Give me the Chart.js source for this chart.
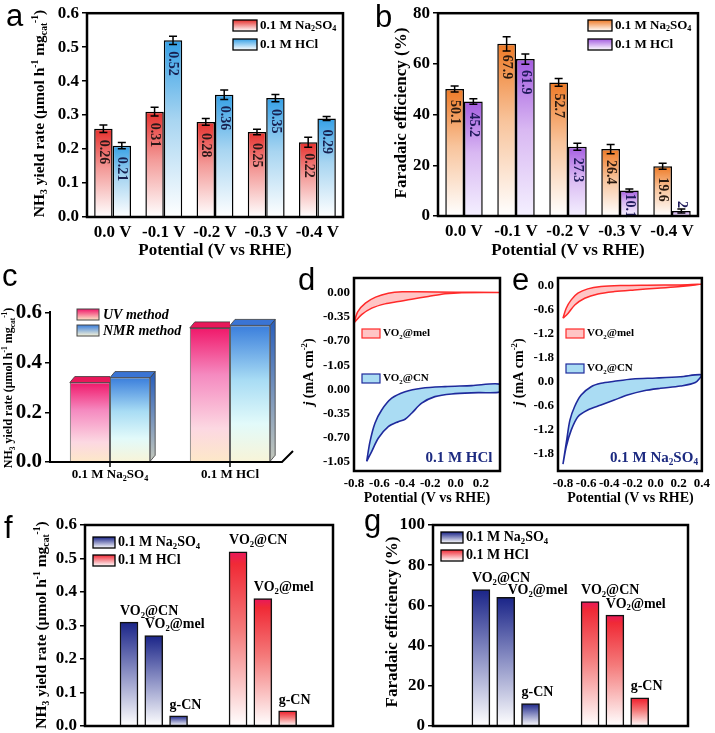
<!DOCTYPE html>
<html>
<head>
<meta charset="utf-8">
<script src="https://cdn.jsdelivr.net/npm/chart.js@4.4.0/dist/chart.umd.min.js"></script>
<style>
  body { margin: 0; background: #fff; }
  #wrap { position: relative; width: 715px; height: 733px; overflow: hidden; background: #fff; }
  canvas { position: absolute; }
</style>
</head>
<body>
<div id="wrap"></div>
<script>
// ---------- data ----------
var potentials = ['0.0 V', '-0.1 V', '-0.2 V', '-0.3 V', '-0.4 V'];
var yieldNa = [0.26, 0.31, 0.28, 0.25, 0.22];
var yieldNaErr = [0.011, 0.013, 0.010, 0.008, 0.015];
var yieldHCl = [0.21, 0.52, 0.36, 0.35, 0.29];
var yieldHClErr = [0.009, 0.012, 0.014, 0.011, 0.006];
var feNa = [50.1, 67.9, 52.7, 26.4, 19.6];
var feNaErr = [1.2, 2.8, 1.5, 1.8, 1.2];
var feHCl = [45.2, 61.9, 27.3, 10.1, 2];
var feHClErr = [1.1, 2.0, 1.4, 0.6, 0.8];

var electrolytes = ['0.1 M Na_{2}SO_{4}', '0.1 M HCl'];
var uvMethod = [0.32, 0.54];
var nmrMethod = [0.34, 0.55];

// CV loops [E, j]: reverse branch then forward branch
var cvMelHCl = [[-0.80,-0.44],[-0.77,-0.275],[-0.71,-0.153],[-0.63,-0.067],[-0.53,-0.01],[-0.42,0.012],[-0.30,0.01],[0.0,0.004],[0.35,0.0],
  [0.05,-0.002],[-0.083,-0.019],[-0.215,-0.058],[-0.346,-0.096],[-0.45,-0.13],[-0.556,-0.164],[-0.66,-0.226],[-0.74,-0.32],[-0.80,-0.44]];
var cvCNHCl = [[-0.70,-1.04],[-0.674,-0.756],[-0.635,-0.49],[-0.582,-0.298],[-0.503,-0.128],[-0.398,-0.033],[-0.267,0.017],[-0.083,0.04],[0.127,0.054],[0.35,0.075],
  [0.35,-0.035],[0.179,-0.047],[-0.031,-0.066],[-0.163,-0.105],[-0.267,-0.20],[-0.346,-0.345],[-0.398,-0.432],[-0.451,-0.467],[-0.53,-0.54],[-0.609,-0.707],[-0.661,-0.90],[-0.70,-1.04]];
var cvMelNa = [[-0.80,-0.815],[-0.772,-0.565],[-0.729,-0.357],[-0.671,-0.19],[-0.586,-0.082],[-0.472,-0.025],[-0.30,0.0],[-0.072,0.01],[0.213,0.018],[0.40,0.035],
  [0.215,-0.025],[0.015,-0.065],[-0.184,-0.108],[-0.355,-0.15],[-0.498,-0.208],[-0.612,-0.315],[-0.698,-0.483],[-0.755,-0.69],[-0.80,-0.815]];
var cvCNNa = [[-0.80,-2.06],[-0.768,-1.46],[-0.74,-0.96],[-0.70,-0.625],[-0.643,-0.333],[-0.557,-0.125],[-0.472,-0.04],[-0.357,0.01],[-0.198,0.068],[0.003,0.093],[0.214,0.125],[0.40,0.17],
  [0.343,-0.02],[0.214,-0.108],[0.043,-0.165],[-0.10,-0.225],[-0.243,-0.333],[-0.357,-0.458],[-0.472,-0.583],[-0.586,-0.708],[-0.671,-0.875],[-0.729,-1.21],[-0.772,-1.625],[-0.80,-2.06]];
var dTicks = [0, -0.35, -0.70, -1.05, -1.40, -1.75, -2.10, -2.45];
var eTicks = [0, -0.6, -1.2, -1.8, -2.4, -3.0, -3.6, -4.2];

var materials = ['VO_{2}@CN', 'VO_{2}@mel', 'g-CN'];
var compYieldNa = [0.31, 0.27, 0.03];
var compYieldHCl = [0.52, 0.38, 0.045];
var compFENa = [67.9, 64, 11.2];
var compFEHCl = [61.9, 55.2, 14];

// ---------- helpers ----------
var SERIF = "'Liberation Serif', 'Times New Roman', serif";
var SANS = "'Liberation Sans', Arial, sans-serif";

function parseRich(str) {
  var out = [], re = /([_^~])\{([^}]*)\}|([^_^~]+)/g, m;
  while ((m = re.exec(str))) {
    if (m[3]) out.push({t: m[3], k: 'n'});
    else out.push({t: m[2], k: m[1] === '_' ? 'sub' : (m[1] === '^' ? 'sup' : 'it')});
  }
  return out;
}

function rich(ctx, str, x, y, o) {
  o = o || {};
  var size = o.size || 16, rot = o.rotate || 0, style = o.style || 'bold';
  var parts = parseRich(str);
  function fontFor(p) {
    var s = (p.k === 'sub' || p.k === 'sup') ? size * 0.62 : size;
    var st = p.k === 'it' ? 'italic bold' : style;
    return st + ' ' + s.toFixed(1) + 'px ' + SERIF;
  }
  ctx.save();
  var w = 0;
  parts.forEach(function (p) { ctx.font = fontFor(p); p.w = ctx.measureText(p.t).width; w += p.w; });
  ctx.translate(x, y);
  ctx.rotate(rot);
  var cx = o.align === 'left' ? 0 : (o.align === 'right' ? -w : -w / 2);
  ctx.fillStyle = o.color || '#000';
  ctx.textBaseline = 'middle';
  ctx.textAlign = 'left';
  parts.forEach(function (p) {
    ctx.font = fontFor(p);
    var dy = p.k === 'sub' ? size * 0.3 : (p.k === 'sup' ? -size * 0.32 : 0);
    ctx.fillText(p.t, cx, dy);
    cx += p.w;
  });
  ctx.restore();
  return w;
}

function letter(ctx, t, x, y) {
  ctx.save();
  ctx.font = '31px ' + SANS;
  ctx.fillStyle = '#000';
  ctx.textBaseline = 'alphabetic';
  ctx.fillText(t, x, y);
  ctx.restore();
}

function grad(ctx, y0, y1, stops) {
  var g = ctx.createLinearGradient(0, y0, 0, y1);
  stops.forEach(function (s) { g.addColorStop(s[0], s[1]); });
  return g;
}

function swatch(ctx, x, y, w, h, fill, stroke, lw) {
  ctx.save();
  ctx.fillStyle = fill;
  ctx.fillRect(x, y, w, h);
  ctx.strokeStyle = stroke || '#000';
  ctx.lineWidth = lw || 1.3;
  ctx.strokeRect(x, y, w, h);
  ctx.restore();
}

function barGradient(stops) {
  return function (c) {
    var chart = c.chart;
    if (!chart.chartArea || c.type !== 'data') return stops[0][1];
    var ys = chart.scales.y;
    var v = (c.raw !== null && typeof c.raw === 'object') ? c.raw.y : c.raw;
    var top = ys.getPixelForValue(v), base = ys.getPixelForValue(0);
    if (!(base > top)) base = top + 1;
    return grad(chart.ctx, top, base, stops);
  };
}

function frame(chart, lw) {
  var a = chart.chartArea, ctx = chart.ctx;
  ctx.save();
  ctx.strokeStyle = '#000';
  ctx.lineWidth = lw || 2.5;
  ctx.strokeRect(a.left, a.top, a.right - a.left, a.bottom - a.top);
  ctx.restore();
}

function mk(box) {
  var c = document.createElement('canvas');
  c.width = box.W; c.height = box.H;
  c.style.left = box.L + 'px';
  c.style.top = box.T + 'px';
  document.getElementById('wrap').appendChild(c);
  return c;
}

function layoutOf(box, plot) {
  return {padding: {top: plot.t - box.T, right: box.L + box.W - plot.r, left: 0, bottom: 0}};
}

function yAxis(box, plot, min, max, step, size, fmt) {
  return {
    type: 'linear', min: min, max: max,
    ticks: {stepSize: step, color: '#000', padding: 3, font: {family: SERIF, size: size, weight: 'bold'}, callback: fmt},
    grid: {drawOnChartArea: false, drawTicks: true, tickLength: 5, color: '#000', lineWidth: 1.5},
    border: {display: false},
    afterFit: function (s) { s.width = plot.l - box.L; }
  };
}

function errorPlugin(errs) {
  return {
    id: 'errs',
    afterDatasetsDraw: function (chart) {
      var ctx = chart.ctx, ys = chart.scales.y;
      ctx.save();
      ctx.strokeStyle = '#000';
      ctx.lineWidth = 1.5;
      errs.forEach(function (err, di) {
        var vals = chart.data.datasets[di].data;
        chart.getDatasetMeta(di).data.forEach(function (bar, i) {
          var yt = ys.getPixelForValue(vals[i] + err[i]), yb = ys.getPixelForValue(vals[i] - err[i]);
          ctx.beginPath();
          ctx.moveTo(bar.x, yt); ctx.lineTo(bar.x, yb);
          ctx.moveTo(bar.x - 4, yt); ctx.lineTo(bar.x + 4, yt);
          ctx.moveTo(bar.x - 4, yb); ctx.lineTo(bar.x + 4, yb);
          ctx.stroke();
        });
      });
      ctx.restore();
    }
  };
}

function valuePlugin(colors) {
  return {
    id: 'vals',
    afterDatasetsDraw: function (chart) {
      var ctx = chart.ctx;
      chart.data.datasets.forEach(function (ds, di) {
        chart.getDatasetMeta(di).data.forEach(function (bar, i) {
          var txt = String(ds.data[i]);
          ctx.save();
          ctx.font = 'bold 14px ' + SERIF;
          var w = ctx.measureText(txt).width;
          var inside = bar.base - bar.y > 15;
          var start = Math.max(bar.y + 3, Math.min(bar.y + 11, bar.base - w - 2));
          ctx.translate(bar.x, inside ? start : bar.y - 3);
          ctx.rotate(Math.PI / 2);
          ctx.textAlign = inside ? 'left' : 'right';
          ctx.textBaseline = 'middle';
          ctx.fillStyle = colors[di];
          ctx.fillText(txt, 0, 0);
          ctx.restore();
        });
      });
    }
  };
}

// ---------- panels a, b ----------
var redStops = [[0, '#e62f2c'], [0.45, '#f39a98'], [1, '#ffffff']];
var blueStops = [[0, '#35a0e6'], [0.45, '#a8d5f1'], [1, '#ffffff']];
var orangeStops = [[0, '#ee7a26'], [0.45, '#f8c49c'], [1, '#ffffff']];
var purpleStops = [[0, '#a45ce0'], [0.45, '#d9b8f2'], [1, '#f4f0ff']];

function panelAB(box, plot, vals, errs, stops, ymax, ystep, fmtY, ytitle, lab, legendX, txtColors) {
  new Chart(mk(box), {
    type: 'bar',
    data: {
      labels: potentials,
      datasets: [
        {data: vals[0], backgroundColor: barGradient(stops[0]), borderColor: '#000', borderWidth: 1.5, categoryPercentage: 0.72, barPercentage: 1},
        {data: vals[1], backgroundColor: barGradient(stops[1]), borderColor: '#000', borderWidth: 1.5, categoryPercentage: 0.72, barPercentage: 1}
      ]
    },
    options: {
      responsive: false, animation: false, devicePixelRatio: 1,
      layout: layoutOf(box, plot),
      plugins: {legend: {display: false}, tooltip: {enabled: false}},
      scales: {
        x: {
          grid: {display: false, drawTicks: false}, border: {display: false},
          ticks: {color: '#000', padding: 5, maxRotation: 0, autoSkip: false, font: {family: SERIF, size: 17, weight: 'bold'}},
          afterFit: function (s) { s.height = box.T + box.H - plot.b; }
        },
        y: yAxis(box, plot, 0, ymax, ystep, 17, fmtY)
      }
    },
    plugins: [valuePlugin(txtColors), errorPlugin(errs), {
      id: 'deco',
      afterDraw: function (chart) {
        var ctx = chart.ctx;
        frame(chart, 2.5);
        ctx.save();
        ctx.translate(-box.L, -box.T);
        rich(ctx, ytitle.text, ytitle.x, (plot.t + plot.b) / 2, {size: ytitle.size, rotate: -Math.PI / 2});
        rich(ctx, 'Potential (V vs RHE)', (plot.l + plot.r) / 2, 251, {size: 17});
        swatch(ctx, legendX, 20, 24, 11, grad(ctx, 20, 31, [[0, stops[0][0][1]], [1, '#ffffff']]));
        swatch(ctx, legendX, 39, 24, 11, grad(ctx, 39, 50, [[0, stops[1][0][1]], [1, '#ffffff']]));
        rich(ctx, electrolytes[0], legendX + 27, 25.5, {size: 13, align: 'left'});
        rich(ctx, electrolytes[1], legendX + 27, 44.5, {size: 13, align: 'left'});
        letter(ctx, lab.t, lab.x, lab.y);
        ctx.restore();
      }
    }]
  });
}

panelAB({L: 0, T: 0, W: 355, H: 262}, {l: 87, r: 343, t: 10, b: 217},
  [yieldNa, yieldHCl], [yieldNaErr, yieldHClErr], [redStops, blueStops], 0.6, 0.1,
  function (v) { return v.toFixed(1); },
  {text: 'NH_{3} yield rate (\u03bcmol h^{-1} mg_{cat}^{-1})', x: 40, size: 15.5},
  {t: 'a', x: 6, y: 26}, 233, ['#2a1818', '#172050']);

panelAB({L: 355, T: 0, W: 360, H: 262}, {l: 438, r: 698, t: 10, b: 216},
  [feNa, feHCl], [feNaErr, feHClErr], [orangeStops, purpleStops], 80, 20,
  function (v) { return String(Math.round(v)); },
  {text: 'Faradaic efficiency (%)', x: 402, size: 17},
  {t: 'b', x: 375, y: 27}, 588, ['#2a1a10', '#1e1a5a']);

// ---------- panel c (3D bars) ----------
var uvStops = [[0, '#f0186a'], [0.35, '#f58ac0'], [0.75, '#fcd8e2'], [1, '#fde8c8']];
var nmrStops = [[0, '#3a7edc'], [0.4, '#a8dcf4'], [0.72, '#e2fafa'], [1, '#f8f4d8']];
(function () {
  var box = {L: 0, T: 262, W: 300, H: 240}, plot = {l: 50, r: 290, t: 313, b: 462};
  var dx = 5, dy = 6;
  var tops = ['#e8185a', '#3a74d4'];
  var nmrSide = [[0, '#2e62bc'], [1, '#c4c8bc']];
  new Chart(mk(box), {
    type: 'bar',
    data: {
      labels: electrolytes,
      datasets: [
        {data: uvMethod, backgroundColor: barGradient(uvStops), borderColor: 'rgba(60,60,60,0.8)', borderWidth: 1, categoryPercentage: 0.67, barPercentage: 1},
        {data: nmrMethod, backgroundColor: barGradient(nmrStops), borderColor: 'rgba(60,60,60,0.8)', borderWidth: 1, categoryPercentage: 0.67, barPercentage: 1}
      ]
    },
    options: {
      responsive: false, animation: false, devicePixelRatio: 1,
      layout: layoutOf(box, plot),
      plugins: {legend: {display: false}, tooltip: {enabled: false}},
      scales: {
        x: {
          grid: {display: false, drawTicks: false}, border: {display: false},
          ticks: {display: false},
          afterFit: function (s) { s.height = box.T + box.H - plot.b; }
        },
        y: yAxis(box, plot, 0, 0.6, 0.1, 21, function (v) { return v.toFixed(1); })
      }
    },
    plugins: [{
      id: 'threeD',
      afterDatasetsDraw: function (chart) {
        var ctx = chart.ctx;
        [0, 1].forEach(function (di) {
          chart.getDatasetMeta(di).data.forEach(function (bar) {
            var x0 = bar.x - bar.width / 2, x1 = bar.x + bar.width / 2, y = bar.y, b = bar.base;
            ctx.save();
            ctx.strokeStyle = 'rgba(60,60,60,0.8)';
            ctx.lineWidth = 1;
            if (di === 0) {
              // the UV block sits behind its NMR neighbour: only its top face up to the shared edge shows
              ctx.beginPath();
              ctx.rect(x0 - 2, y - dy - 2, x1 - x0 + 2, dy + 3);
              ctx.clip();
            } else {
              ctx.beginPath();
              ctx.moveTo(x1, y); ctx.lineTo(x1 + dx, y - dy); ctx.lineTo(x1 + dx, b - dy); ctx.lineTo(x1, b); ctx.closePath();
              ctx.fillStyle = grad(ctx, y, b, nmrSide);
              ctx.fill(); ctx.stroke();
            }
            ctx.beginPath();
            ctx.moveTo(x0, y); ctx.lineTo(x0 + dx, y - dy); ctx.lineTo(x1 + dx, y - dy); ctx.lineTo(x1, y); ctx.closePath();
            ctx.fillStyle = tops[di];
            ctx.fill(); ctx.stroke();
            ctx.restore();
          });
        });
      },
      afterDraw: function (chart) {
        var ctx = chart.ctx, a = chart.chartArea;
        ctx.save();
        ctx.strokeStyle = '#000';
        ctx.lineWidth = 2;
        ctx.beginPath();
        ctx.moveTo(a.left, a.top - 2); ctx.lineTo(a.left, a.bottom);
        ctx.lineTo(a.right - 8, a.bottom); ctx.lineTo(a.right + 3, a.bottom - 11);
        ctx.stroke();
        var m0 = chart.getDatasetMeta(0).data, m1 = chart.getDatasetMeta(1).data;
        ctx.lineWidth = 1.5;
        for (var i = 0; i < electrolytes.length; i++) {
          var cx = (m0[i].x + m1[i].x) / 2;
          ctx.beginPath(); ctx.moveTo(cx, a.bottom); ctx.lineTo(cx, a.bottom + 5); ctx.stroke();
          rich(ctx, electrolytes[i], cx, a.bottom + 13, {size: 13});
        }
        ctx.translate(-box.L, -box.T);
        swatch(ctx, 77, 309, 22, 11, grad(ctx, 309, 320, [[0, '#f0186a'], [1, '#fde8c8']]), '#444', 1);
        swatch(ctx, 77, 325, 22, 11, grad(ctx, 325, 336, [[0, '#3a7edc'], [1, '#f8f4d8']]), '#444', 1);
        rich(ctx, 'UV method', 103, 315, {size: 14, style: 'italic bold', align: 'left'});
        rich(ctx, 'NMR method', 103, 331, {size: 14, style: 'italic bold', align: 'left'});
        rich(ctx, 'NH_{3} yield rate (\u03bcmol h^{-1} mg_{cat}^{-1})', 9, 388, {size: 12, rotate: -Math.PI / 2});
        letter(ctx, 'c', 2, 286);
        ctx.restore();
      }
    }]
  });
})();

// ---------- panels d, e (CV loops, stacked with offset) ----------
function panelCV(box, plot, loops, offset, xr, xticks, yr, yticks, ydec, note, lab, legendY) {
  var melFill = 'rgba(255,150,150,0.55)', cnFill = '#aadcf3';
  function fmt(v, d) { return (Math.abs(v) < 1e-9 ? 0 : v).toFixed(d); }
  new Chart(mk(box), {
    type: 'scatter',
    data: {
      datasets: [
        {data: loops[0].map(function (p) { return {x: p[0], y: p[1]}; }),
          showLine: true, fill: 'shape', backgroundColor: melFill, borderColor: '#ff2a2a', borderWidth: 1.5, pointRadius: 0, tension: 0.3},
        {data: loops[1].map(function (p) { return {x: p[0], y: p[1] - offset}; }),
          showLine: true, fill: 'shape', backgroundColor: cnFill, borderColor: '#1f2a9c', borderWidth: 1.6, pointRadius: 0, tension: 0.3}
      ]
    },
    options: {
      responsive: false, animation: false, devicePixelRatio: 1,
      layout: layoutOf(box, plot),
      plugins: {legend: {display: false}, tooltip: {enabled: false}},
      scales: {
        x: {
          type: 'linear', min: xr[0], max: xr[1],
          afterBuildTicks: function (s) { s.ticks = xticks.map(function (v) { return {value: v}; }); },
          ticks: {color: '#000', padding: 5, maxRotation: 0, autoSkip: false, font: {family: SERIF, size: 13, weight: 'bold'},
            callback: function (v) { return fmt(v, 1); }},
          grid: {display: false, drawTicks: false}, border: {display: false},
          afterFit: function (s) { s.height = box.T + box.H - plot.b; }
        },
        y: {
          type: 'linear', min: yr[0], max: yr[1],
          afterBuildTicks: function (s) { s.ticks = yticks.map(function (v) { return {value: v}; }); },
          ticks: {color: '#000', padding: 4, autoSkip: false, font: {family: SERIF, size: 13, weight: 'bold'},
            callback: function (v) { return fmt(v < -offset + 0.2 ? v + offset : v, ydec); }},
          grid: {display: false, drawTicks: false}, border: {display: false},
          afterFit: function (s) { s.width = plot.l - box.L; }
        }
      }
    },
    plugins: [{
      id: 'deco',
      afterDraw: function (chart) {
        var ctx = chart.ctx;
        frame(chart, 2.5);
        ctx.save();
        ctx.translate(-box.L, -box.T);
        swatch(ctx, plot.l + 8, legendY[0], 18, 9, melFill, '#ff2a2a', 1.2);
        swatch(ctx, plot.l + 8, legendY[1], 18, 9, cnFill, '#1f2a9c', 1.2);
        rich(ctx, 'VO_{2}@mel', plot.l + 29, legendY[0] + 4.5, {size: 11, align: 'left'});
        rich(ctx, 'VO_{2}@CN', plot.l + 29, legendY[1] + 4.5, {size: 11, align: 'left'});
        rich(ctx, note.text, note.x, 458, {size: 15, color: '#1c2a80'});
        rich(ctx, '~{j} (mA cm^{-2})', box.L + (lab.t === 'd' ? 19 : 14), 372, {size: 14, rotate: -Math.PI / 2});
        rich(ctx, 'Potential (V vs RHE)', (plot.l + plot.r) / 2, 498, {size: 14});
        letter(ctx, lab.t, lab.x, lab.y);
        ctx.restore();
      }
    }]
  });
}

panelCV({L: 290, T: 262, W: 215, H: 250}, {l: 354, r: 500, t: 278, b: 471},
  [cvMelHCl, cvCNHCl], 1.4, [-0.8, 0.35], [-0.8, -0.6, -0.4, -0.2, 0, 0.2],
  [-2.58, 0.21], dTicks, 2, {text: '0.1 M HCl', x: 459}, {t: 'd', x: 298, y: 290}, [329, 374]);

panelCV({L: 505, T: 262, W: 210, H: 250}, {l: 558, r: 703, t: 278, b: 471},
  [cvMelNa, cvCNNa], 2.4, [-0.843, 0.40], [-0.8, -0.6, -0.4, -0.2, 0, 0.2, 0.4],
  [-4.63, 0.19], eTicks, 1, {text: '0.1 M Na_{2}SO_{4}', x: 654}, {t: 'e', x: 512, y: 290}, [329, 364]);

// ---------- panels f, g (catalyst comparison) ----------
var navyStops = [[0, '#1a2488'], [0.5, '#8e93c6'], [1, '#ffffff']];
var hclStops = [[0, '#e8185c'], [0.07, '#f02a36'], [0.45, '#f47a7a'], [1, '#ffffff']];

function panelFG(box, plot, na, hcl, xr, ymax, ystep, fmtY, ytitle, lab, legendY) {
  function pts(vals, start) { return vals.map(function (v, i) { return {x: start + i, y: v}; }); }
  new Chart(mk(box), {
    type: 'bar',
    data: {
      datasets: [
        {data: pts(na, 1), backgroundColor: barGradient(navyStops), borderColor: '#111', borderWidth: 1.5, barThickness: 18, grouped: false},
        {data: pts(hcl, 5.4), backgroundColor: barGradient(hclStops), borderColor: '#111', borderWidth: 1.5, barThickness: 18, grouped: false}
      ]
    },
    options: {
      responsive: false, animation: false, devicePixelRatio: 1,
      layout: layoutOf(box, plot),
      plugins: {legend: {display: false}, tooltip: {enabled: false}},
      scales: {
        x: {
          type: 'linear', min: xr[0], max: xr[1],
          ticks: {display: false}, grid: {display: false, drawTicks: false}, border: {display: false},
          afterFit: function (s) { s.height = box.T + box.H - plot.b; }
        },
        y: yAxis(box, plot, 0, ymax, ystep, 17, fmtY)
      }
    },
    plugins: [{
      id: 'deco',
      afterDraw: function (chart) {
        var ctx = chart.ctx;
        frame(chart, 2.5);
        [0, 1].forEach(function (di) {
          var prevY = -100;
          chart.getDatasetMeta(di).data.forEach(function (bar, i) {
            var ly = bar.y - 11, shift = 0;
            if (Math.abs(ly - prevY) < 12) { ly = prevY + 12; shift = 11; }
            rich(ctx, materials[i], bar.x - bar.width / 2 + shift, ly, {size: 14, align: 'left'});
            prevY = ly;
          });
        });
        ctx.save();
        ctx.translate(-box.L, -box.T);
        swatch(ctx, plot.l + 8, legendY, 22, 11, grad(ctx, legendY, legendY + 11, [[0, '#1a2488'], [1, '#ffffff']]));
        swatch(ctx, plot.l + 8, legendY + 18, 22, 11, grad(ctx, legendY + 18, legendY + 29, [[0, '#f02a36'], [1, '#ffffff']]));
        rich(ctx, electrolytes[0], plot.l + 33, legendY + 5.5, {size: 14, align: 'left'});
        rich(ctx, electrolytes[1], plot.l + 33, legendY + 23.5, {size: 14, align: 'left'});
        rich(ctx, ytitle.text, ytitle.x, ytitle.y, {size: ytitle.size, rotate: -Math.PI / 2});
        letter(ctx, lab.t, lab.x, lab.y);
        ctx.restore();
      }
    }]
  });
}

panelFG({L: 0, T: 505, W: 355, H: 235}, {l: 85, r: 333, t: 525, b: 726},
  compYieldNa, compYieldHCl, [0.226, 8.23], 0.6, 0.1, function (v) { return v.toFixed(1); },
  {text: 'NH_{3} yield rate (\u03bcmol h^{-1} mg_{cat}^{-1})', x: 42, y: 625, size: 15.5},
  {t: 'f', x: 4, y: 538}, 537);

panelFG({L: 355, T: 505, W: 360, H: 235}, {l: 433, r: 688, t: 525, b: 726},
  compFENa, compFEHCl, [0.097, 8.32], 100, 20, function (v) { return String(Math.round(v)); },
  {text: 'Faradaic efficiency (%)', x: 393, y: 622, size: 17},
  {t: 'g', x: 364, y: 531}, 532);
</script>
</body>
</html>
